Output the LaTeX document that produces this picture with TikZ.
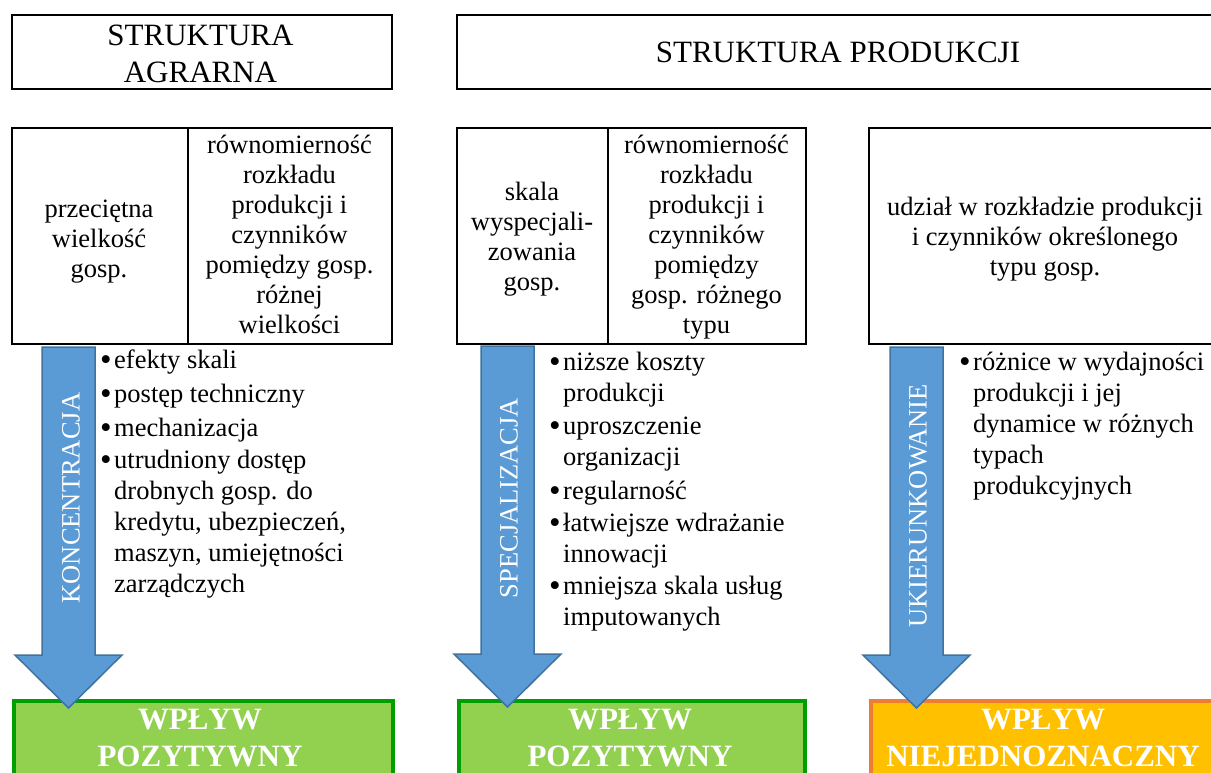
\documentclass[tikz,border=0pt]{standalone}
\usepackage{fontspec}
\setmainfont{Liberation Serif}
\definecolor{arrowfill}{HTML}{5B9BD5}
\definecolor{arrowedge}{HTML}{41719C}
\definecolor{posfill}{HTML}{92D050}
\definecolor{posedge}{RGB}{0,158,0}
\definecolor{ambfill}{HTML}{FFC000}
\definecolor{ambedge}{HTML}{ED7D31}
\newcommand\bul{\makebox[14pt][l]{\raisebox{-2pt}{\fontsize{33}{33}\selectfont\textbullet}}}
\tikzset{
  frame/.style={draw=black, line width=2pt, inner sep=0pt, anchor=north west},
  verdictbox/.style={line width=4pt, inner sep=0pt, anchor=north west},
  title/.style={font=\fontsize{31}{37}\selectfont, inner sep=0pt, anchor=base},
  body/.style={font=\fontsize{26.5}{30}\selectfont, inner sep=0pt, anchor=base},
  bullets/.style={font=\fontsize{26.5}{31}\selectfont, inner sep=0pt, anchor=base west},
  verdict/.style={font=\bfseries\fontsize{31}{37}\selectfont, text=white, inner sep=0pt, anchor=base},
  flowlabel/.style={font=\fontsize{26.5}{30}\selectfont, text=white, rotate=90, inner sep=0pt},
  arrowbody/.style={fill=arrowfill, draw=arrowedge, line width=1.5pt, line join=miter},
  pics/flowarrow/.style={code={
    \draw[arrowbody] (-26.5,0) -- (26.5,0) -- (26.5,308) -- (53.5,308)
      -- (0,361) -- (-53.5,308) -- (-26.5,308) -- cycle;
  }}
}
\begin{document}
\begin{tikzpicture}[x=1pt, y=-1pt]
\useasboundingbox (0,0) rectangle (1211,772);
\clip (0,0) rectangle (1211,772);

% headers
\node[frame, minimum width=380pt, minimum height=74pt] (agrbox) at (11,14) {};
\node[frame, minimum width=766pt, minimum height=74pt] (prodbox) at (456,14) {};
\node[title] (agrtxt) at (200.5,45) {\begin{tabular}[t]{@{}c@{}}STRUKTURA\\AGRARNA\end{tabular}};
\node[title] (prodtxt) at (838,62) {STRUKTURA PRODUKCJI};

% measures
\node[frame, minimum width=380pt, minimum height=216pt] (agrcells) at (11,127) {};
\draw[draw=black, line width=2pt] ([xshift=177pt]agrcells.north west) -- ([xshift=177pt]agrcells.south west);
\node[frame, minimum width=349pt, minimum height=216pt] (prodcells) at (456,127) {};
\draw[draw=black, line width=2pt] ([xshift=152pt]prodcells.north west) -- ([xshift=152pt]prodcells.south west);
\node[frame, minimum width=354pt, minimum height=216pt] (typecell) at (868,127) {};

\node[body] (avgsize) at (99,217) {\begin{tabular}[t]{@{}c@{}}przeciętna\\wielkość\\gosp.\end{tabular}};
\node[body] (evenA) at (289.5,153) {\begin{tabular}[t]{@{}c@{}}równomierność\\rozkładu\\produkcji i\\czynników\\pomiędzy gosp.\\różnej\\wielkości\end{tabular}};
\node[body] (spec) at (532,200) {\begin{tabular}[t]{@{}c@{}}skala\\wyspecjali-\\zowania\\gosp.\end{tabular}};
\node[body] (evenB) at (706.5,153) {\begin{tabular}[t]{@{}c@{}}równomierność\\rozkładu\\produkcji i\\czynników\\pomiędzy\\gosp. różnego\\typu\end{tabular}};
\node[body] (share) at (1045,215) {\begin{tabular}[t]{@{}c@{}}udział w rozkładzie produkcji\\i czynników określonego\\typu gosp.\end{tabular}};

% outcomes
\node[verdictbox, draw=posedge, fill=posfill, minimum width=379pt, minimum height=120pt] (posA) at (12,699) {};
\node[verdictbox, draw=posedge, fill=posfill, minimum width=346pt, minimum height=120pt] (posB) at (457,699) {};
\node[verdictbox, draw=ambedge, fill=ambfill, minimum width=360pt, minimum height=120pt] (amb) at (869,699) {};
\node[verdict] (posAtxt) at (200,729) {\begin{tabular}[t]{@{}c@{}}WPŁYW\\POZYTYWNY\end{tabular}};
\node[verdict] (posBtxt) at (630,729) {\begin{tabular}[t]{@{}c@{}}WPŁYW\\POZYTYWNY\end{tabular}};
\node[verdict] (ambtxt) at (1043,729) {\begin{tabular}[t]{@{}c@{}}WPŁYW\\NIEJEDNOZNACZNY\end{tabular}};

% processes
\pic (konc) at (68.5,347) {flowarrow};
\pic (specarr) at (507.5,346) {flowarrow};
\pic (ukier) at (916.5,347) {flowarrow};
\node[flowlabel] (konclbl) at (71,498) {KONCENTRACJA};
\node[flowlabel] (speclbl) at (509,498) {SPECJALIZACJA};
\node[flowlabel] (ukierlbl) at (918,506) {UKIERUNKOWANIE};

% effects
\node[bullets] (concfx) at (100,368) {\begin{tabular}[t]{@{}l@{}l@{}}
\bul & efekty skali\\[3pt]
\bul & postęp techniczny\\[3pt]
\bul & mechanizacja\\[1pt]
\bul & utrudniony dostęp\\
 & drobnych gosp. do\\
 & kredytu, ubezpieczeń,\\
 & maszyn, umiejętności\\
 & zarządczych
\end{tabular}};
\node[bullets] (specfx) at (549,370) {\begin{tabular}[t]{@{}l@{}l@{}}
\bul & niższe koszty\\
 & produkcji\\[2pt]
\bul & uproszczenie\\
 & organizacji\\[3pt]
\bul & regularność\\[1pt]
\bul & łatwiejsze wdrażanie\\
 & innowacji\\[1pt]
\bul & mniejsza skala usług\\
 & imputowanych
\end{tabular}};
\node[bullets] (typefx) at (959,370) {\begin{tabular}[t]{@{}l@{}l@{}}
\bul & różnice w wydajności\\
 & produkcji i jej\\
 & dynamice w różnych\\
 & typach\\
 & produkcyjnych
\end{tabular}};
\end{tikzpicture}
\end{document}
